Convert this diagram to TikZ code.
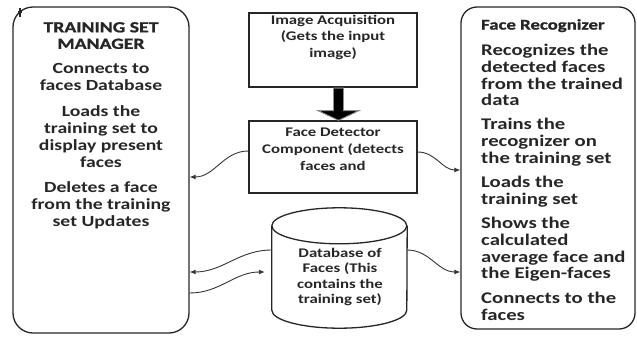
\documentclass[tikz,border=0pt]{standalone}
\usepackage{fontspec}
\setmainfont{Carlito}[FakeStretch=1.27, BoldFont={Carlito Bold}, BoldFeatures={FakeStretch=1.27}]
\newfontfamily\heavyfont{Carlito Bold}[FakeStretch=1.27, FakeBold=1.2]
\usetikzlibrary{arrows.meta,calc}
\begin{document}
\begin{tikzpicture}[x=1pt,y=-1pt,
  box/.style={draw=black!85, line width=1.3pt},
  conn/.style={draw=black!80, line width=0.9pt, -{Latex[length=6pt,width=5pt]}},
  ltxt/.style={inner sep=0pt, font=\bfseries\fontsize{15.5}{17}\selectfont, align=center, anchor=north, text=black!85},
  rtxt/.style={inner sep=0pt, font=\bfseries\fontsize{16.3}{16.7}\selectfont, align=left, anchor=north west, text=black!85},
  mtxt/.style={inner sep=0pt, font=\bfseries\fontsize{13.2}{16.8}\selectfont, align=center, anchor=north, text=black!85}]
\useasboundingbox (0,0) rectangle (637,340);
% boxes
\node[box, rounded corners=20pt, minimum width=176pt, minimum height=326pt] (lb) at (101,170) {};
\node[box, rounded corners=16pt, minimum width=174pt, minimum height=322pt] (rb) at (548,168) {};
\node[box, minimum width=168pt, minimum height=74pt] (ia) at (333,50) {};
\node[box, minimum width=168pt, minimum height=72pt] (fd) at (333,157) {};
\node[minimum width=135pt, minimum height=120pt, inner sep=0pt] (db) at (339.5,268) {};
% cylinder
\draw[box] (db.north west) ++(0,18) arc[start angle=180, end angle=-180, x radius=67.5, y radius=-18];
\draw[box] ($(db.north west)+(0,18)$) -- ($(db.south west)+(0,-18)$)
  arc[start angle=180, end angle=360, x radius=67.5, y radius=-18] -- ($(db.north east)+(0,18)$);
% block arrow
\draw[fill=black, draw=black!45, line width=0.9pt]
  ($(ia.south)+(0.5,0.5)$) -- ($(ia.south)+(0.5,23)$) -- ($(ia.south)+(-15,23)$)
  -- ($(fd.north)+(5.5,0)$) -- ($(ia.south)+(26,23)$) -- ($(ia.south)+(10.5,23)$)
  -- ($(ia.south)+(10.5,0.5)$) -- cycle;
% top-left mark
\draw[black!85, line width=1.1pt] (20,8) -- (20,17) (18,12) -- (22,12);
% texts
\node[ltxt, font=\heavyfont\fontsize{15.5}{16.5}\selectfont] (l1) at (101,22) {TRAINING SET\\MANAGER};
\node[ltxt] (l2) at (101,63) {Connects to\\faces Database};
\node[ltxt] (l3) at (101,105) {Loads the\\training set to\\display present\\faces};
\node[ltxt] (l4) at (101,181) {Deletes a face\\from the training\\set Updates};
\node[rtxt, font=\heavyfont\fontsize{14.8}{16}\selectfont] (r1) at (481,19) {Face Recognizer};
\node[rtxt] (r2) at (481,44) {Recognizes the\\detected faces\\from the trained\\data};
\node[rtxt] (r3) at (481,118) {Trains the\\recognizer on\\the training set};
\node[rtxt] (r4) at (481,176) {Loads the\\training set};
\node[rtxt] (r5) at (481,217) {Shows the\\calculated\\average face and\\the Eigen-faces};
\node[rtxt] (r6) at (481,292) {Connects to the\\faces};
\node[mtxt, font=\bfseries\fontsize{13.2}{16.5}\selectfont] (m1) at (333,15) {Image Acquisition\\(Gets the input\\image)};
\node[mtxt] (m2) at (333,128) {Face Detector\\Component (detects\\faces and};
\node[mtxt, font=\bfseries\fontsize{13.2}{15.4}\selectfont] (m3) at (340,248) {Database of\\Faces (This\\contains the\\training set)};
% connectors
\coordinate (c5) at ($(db.west)+(-7,4)$);
\draw[conn] ([yshift=6pt]fd.west) to[out=180,in=0] ([yshift=-7pt]lb.east);
\draw[conn] ([yshift=5pt]fd.east) to[out=0,in=180] ([yshift=-2pt]rb.west);
\draw[conn] ([yshift=18pt]db.east) to[out=0,in=180] ([yshift=-104pt]rb.west);
\draw[conn] ([yshift=18pt]db.west) to[out=180,in=0] ([yshift=-102pt]lb.east);
\draw[conn] ([yshift=-123pt]lb.east) to[out=0,in=180] (c5);
\end{tikzpicture}
\end{document}
